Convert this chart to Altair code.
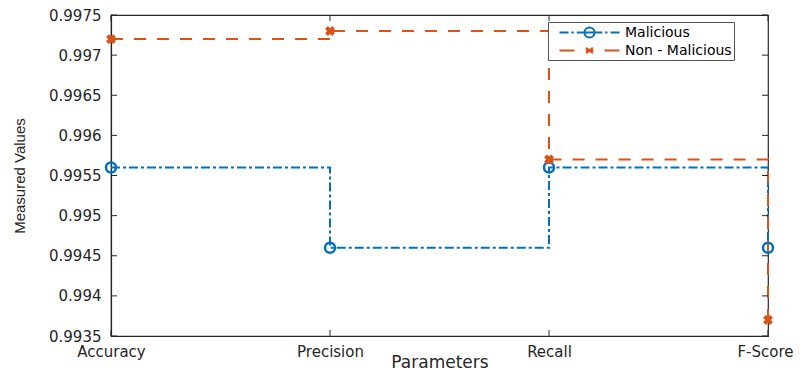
import altair as alt
import pandas as pd

# ---- data ----
categories = ["Accuracy", "Precision", "Recall", "F-Score"]
positions = [1, 2, 3, 4]
malicious = [0.9956, 0.9946, 0.9956, 0.9946]
non_malicious = [0.9972, 0.9973, 0.9957, 0.9937]
series_names = ["Malicious", "Non - Malicious"]
y_ticks = [0.9935, 0.994, 0.9945, 0.995, 0.9955, 0.996, 0.9965, 0.997, 0.9975]

BLUE = "#0072BD"
ORANGE = "#D95319"
AXC = "#262626"
W, H = 657, 321

df = pd.DataFrame({
    "pos": positions * 2,
    "value": malicious + non_malicious,
    "series": [series_names[0]] * 4 + [series_names[1]] * 4,
})
df_mal = df[df.series == series_names[0]]
df_non = df[df.series == series_names[1]]
ytick_df = pd.DataFrame({"value": y_ticks})
xtick_df = pd.DataFrame({"pos": positions})

label_expr = "[" + ",".join("'%s'" % c for c in categories) + "][datum.value - 1]"
last = positions[-1]

xscale = alt.Scale(domain=[1, 4], nice=False, zero=False)
yscale = alt.Scale(domain=[0.9935, 0.9975], nice=False, zero=False)

x_enc = alt.X("pos:Q", scale=xscale, axis=alt.Axis(
    values=positions, labelExpr=label_expr, title="Parameters", ticks=False,
    grid=False, labelFlush=False, labelOverlap=False, labelPadding=8,
    labelAlign=alt.ExprRef(expr="datum.value == %d ? 'right' : 'center'" % last),
    labelOffset=alt.ExprRef(expr="datum.value == %d ? 25 : 0" % last),
    labelFont="DejaVu Sans", labelFontSize=15, labelColor=AXC,
    titleFont="DejaVu Sans", titleFontSize=17, titleFontWeight="normal",
    titleColor=AXC, titleX=W / 2, titleY=31, titleBaseline="alphabetic",
    domainColor=AXC, domainWidth=1.2))
y_enc = alt.Y("value:Q", scale=yscale, axis=alt.Axis(
    values=y_ticks, format="~g", title="Measured Values", ticks=False,
    grid=False, labelFlush=False, labelOverlap=False, labelPadding=10,
    labelFont="DejaVu Sans", labelFontSize=15, labelColor=AXC,
    titleFont="Liberation Sans", titleFontSize=15, titleFontWeight="normal",
    titleColor=AXC, titleX=-92, titleY=H / 2, titleBaseline="middle",
    titleAngle=-90, titleAlign="center",
    domainColor=AXC, domainWidth=1.2))

line_mal = alt.Chart(df_mal).mark_line(
    interpolate="step-after", color=BLUE, strokeWidth=2,
    strokeDash=[9, 3, 3, 3]).encode(x=x_enc, y=y_enc)
line_non = alt.Chart(df_non).mark_line(
    interpolate="step-after", color=ORANGE, strokeWidth=2,
    strokeDash=[12, 11]).encode(x="pos:Q", y="value:Q")

pts_mal = alt.Chart(df_mal).mark_point(
    shape="circle", filled=False, color=BLUE, size=100, strokeWidth=2.5,
    opacity=1).encode(x="pos:Q", y="value:Q")
pts_non = alt.Chart(df_non).mark_point(
    shape="cross", angle=45, filled=True, color=ORANGE, size=100,
    opacity=1).encode(x="pos:Q", y="value:Q")

# inward tick marks (MATLAB style box ticks)
tick_left = alt.Chart(ytick_df).mark_rule(color=AXC, strokeWidth=1).encode(
    y="value:Q", x=alt.value(0), x2=alt.value(6))
tick_right = alt.Chart(ytick_df).mark_rule(color=AXC, strokeWidth=1).encode(
    y="value:Q", x=alt.value(W - 6), x2=alt.value(W))
tick_top = alt.Chart(xtick_df).mark_rule(color=AXC, strokeWidth=1).encode(
    x="pos:Q", y=alt.value(0), y2=alt.value(6))
tick_bot = alt.Chart(xtick_df).mark_rule(color=AXC, strokeWidth=1).encode(
    x="pos:Q", y=alt.value(H - 6), y2=alt.value(H))

# legend: line + marker symbols drawn as custom paths
path_mal = ("M-3.6,0H-2.4M-2,0H-1.7M-1.3,0H-0.27M1.07,0H2.1M2.5,0H2.8M3.2,0H4.4"
            "M1.07,0A0.67,0.67 0 1 1 -0.27,0A0.67,0.67 0 1 1 1.07,0M-0.27,0H1.07")
path_non = ("M-3.6,0H-1.6M2.4,0H4.4"
            "M-0.05,-0.35L0.85,0.35M-0.05,0.35L0.85,-0.35M-0.1,0H0.9")
leg = dict(title=None, orient="none", legendX=437, legendY=7,
           fillColor="white", strokeColor="#555555", padding=2,
           labelFont="DejaVu Sans", labelFontSize=14, labelColor="black",
           symbolSize=225, symbolStrokeWidth=2, symbolOpacity=1,
           symbolOffset=28, labelOffset=30, rowPadding=-3)
legend_layer = alt.Chart(df).mark_point(opacity=0, filled=False).encode(
    x="pos:Q", y="value:Q",
    color=alt.Color("series:N", scale=alt.Scale(domain=series_names, range=[BLUE, ORANGE]),
                    legend=alt.Legend(**leg)),
    shape=alt.Shape("series:N", scale=alt.Scale(domain=series_names, range=[path_mal, path_non]),
                    legend=alt.Legend(**leg)),
)

chart = alt.layer(
    line_mal, line_non, tick_left, tick_right, tick_top, tick_bot,
    pts_mal, pts_non, legend_layer,
).properties(
    width=W, height=H,
    autosize=alt.AutoSizeParams(type="none"),
    padding={"left": 103, "top": 7, "right": 25, "bottom": 35},
    background="white",
).configure_view(stroke=AXC, strokeWidth=1.2)

chart.save("out.html", embed_options={"renderer": "svg", "actions": False})
